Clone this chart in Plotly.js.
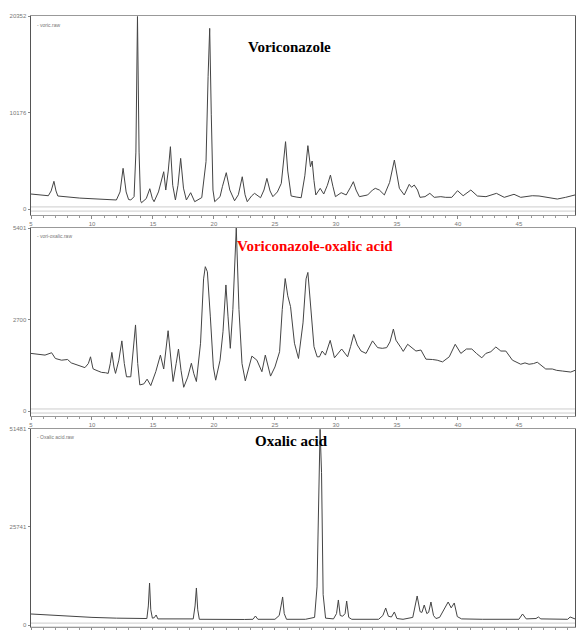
<!DOCTYPE html>
<html>
<head>
<meta charset="utf-8">
<script src="https://cdn.plot.ly/plotly-3.0.1.min.js"></script>
<style>html,body{margin:0;padding:0;background:#fff;}#chart{width:576px;height:630px;}</style>
</head>
<body>
<div id="chart"></div>
<script>
// Panel 1: Voriconazole (2theta, counts)
const vori_x = [5.0,6.0,6.42,6.65,6.88,7.05,7.2,9.0,11.0,12.0,12.3,12.55,12.8,13.0,13.18,13.45,13.6,13.73,13.86,13.98,14.06,14.45,14.74,14.95,15.09,15.45,15.88,16.05,16.25,16.43,16.62,16.84,17.05,17.27,17.5,17.74,18.09,18.42,19.0,19.35,19.52,19.65,19.78,19.92,20.06,20.5,20.69,21.01,21.3,21.69,22.0,22.32,22.55,22.73,23.1,23.33,23.82,24.1,24.34,24.6,24.83,25.2,25.52,25.7,25.87,26.05,26.33,26.8,27.15,27.45,27.70,27.91,28.05,28.2,28.35,28.71,29.0,29.3,29.55,29.75,29.96,30.43,30.84,31.2,31.43,31.65,31.92,32.6,33.0,33.23,33.56,33.97,34.4,34.79,35.0,35.2,35.6,36.01,36.2,36.42,36.69,36.89,37.3,37.7,38.06,38.6,39.0,39.5,39.97,40.43,41.06,41.6,42.3,43.16,43.8,44.6,45.15,46.1,46.65,47.33,48.15,48.83,49.6];
const vori_y = [1580,1470,1400,1900,2920,1900,1370,1150,1000,950,1800,4290,1800,1000,950,1300,6000,20300,6000,900,660,1100,2140,1100,770,1800,3930,2000,4000,6570,2500,950,2500,5340,2200,950,1720,770,1200,5000,14000,19050,10000,2000,770,1300,2350,3830,2000,870,1500,3400,1500,770,1400,1650,1190,2000,3230,1900,1300,1800,2700,5000,7100,4000,1370,1250,1190,3500,6680,4460,5060,3000,1480,2180,1580,2500,3580,2400,1300,1720,1480,2300,2880,2000,1300,1480,2000,2180,2000,1480,2800,5160,3500,2180,1480,2600,2290,2530,2000,1230,1300,1650,1230,1300,1230,1230,1930,1400,2000,1370,1300,1650,1230,1550,1230,1400,1370,1230,1050,1230,1480];

// Panel 2: Voriconazole-oxalic acid
const vox_x = [5.0,5.5,6.15,6.69,7.0,7.5,8.0,8.3,8.6,9.0,9.42,9.7,9.88,10.05,10.1,10.5,10.78,11.1,11.33,11.5,11.63,11.8,11.93,12.2,12.45,12.65,12.83,13.18,13.4,13.57,13.75,13.92,14.25,14.52,14.82,15.23,15.61,15.88,16.24,16.45,16.65,16.9,17.09,17.3,17.52,17.85,18.15,18.35,18.56,18.9,19.15,19.29,19.46,19.7,19.95,20.14,20.5,20.74,20.98,21.15,21.34,21.55,21.83,22.05,22.3,22.57,22.85,23.11,23.52,23.93,24.21,24.45,24.64,25.0,25.38,25.6,25.84,26.05,26.28,26.6,26.93,27.3,27.55,27.70,27.9,28.2,28.46,28.65,28.87,29.14,29.53,29.88,30.47,30.96,31.2,31.46,31.75,32.06,32.47,33.0,33.42,33.8,34.16,34.43,34.71,34.92,35.33,35.52,35.88,36.15,36.56,36.97,37.38,37.92,38.3,38.74,39.29,39.78,40.24,40.70,41.14,41.52,41.96,42.29,42.7,43.11,43.52,43.93,44.47,45.15,45.5,45.83,46.2,46.51,47.2,47.74,48.1,48.56,49.25,49.6];
const vox_y = [1700,1680,1650,1720,1550,1500,1520,1420,1380,1330,1280,1400,1600,1300,1240,1180,1140,1130,1110,1400,1730,1300,1110,1500,2070,1400,1010,1010,1800,2540,1400,770,800,940,750,1160,1650,1240,2370,1500,870,1400,1830,1200,700,1000,1410,1100,870,2000,3900,4260,4110,2800,1300,910,1500,2340,3720,2800,1850,3000,5400,3000,1400,890,1300,1620,1500,1160,1650,1300,1030,1300,1750,3000,3910,3400,3080,2000,1550,2600,3900,4090,3300,1900,1600,1600,1770,1650,2085,1570,1830,1600,1900,2260,1950,1770,1700,2070,1870,1850,1870,2040,2420,2090,1870,1760,1970,1900,1770,1800,1530,1520,1500,1450,1600,1970,1700,1830,1830,1700,1570,1700,1750,1890,1770,1770,1500,1380,1420,1380,1400,1440,1240,1240,1200,1180,1150,1200];

// Panel 3: Oxalic acid
const ox_x = [5.0,6.0,8.0,10.0,12.0,14.0,14.5,14.62,14.72,14.82,14.95,15.1,15.26,15.4,17.0,18.3,18.45,18.56,18.67,18.8,22.5,23.2,23.4,23.6,25.0,25.35,25.5,25.63,25.76,25.95,27.5,28.25,28.45,28.6,28.7,28.82,28.95,29.15,29.8,30.05,30.2,30.35,30.55,30.75,30.88,31.05,31.3,33.5,33.85,34.08,34.3,34.55,34.79,35.0,35.5,36.3,36.66,36.9,37.05,37.24,37.45,37.6,37.79,38.0,38.2,38.5,38.93,39.2,39.45,39.7,39.95,40.3,42.0,45.0,45.3,45.6,46.4,46.6,46.8,49.0,49.2,49.6];
const ox_y = [2890,2700,2300,2000,1800,1600,1700,5000,11030,4000,1800,1900,2630,1600,1500,1600,5000,9720,4000,1500,1450,1500,2360,1500,1500,2500,5000,7360,3000,1500,1500,2000,10000,40000,51400,40000,8000,1800,1600,3000,6570,2500,2300,3000,6300,2000,1500,1500,2500,4470,2300,2100,3420,1700,1500,2000,7620,3500,3300,5250,3000,3300,6040,2500,1700,2000,4470,6040,4500,5780,2200,1600,1500,1500,2890,1600,1700,2100,1600,1500,2100,1600];

// Axis tick labels
const y1_ticks = [0, 10176, 20352];
const y2_ticks = [0, 2700, 5401];
const y3_ticks = [0, 25741, 51481];
const x_ticks = [5, 10, 15, 20, 25, 30, 35, 40, 45];

const lineStyle = {color: '#444', width: 1};
const traces = [
  {x: vori_x, y: vori_y, xaxis: 'x', yaxis: 'y', type: 'scatter', mode: 'lines', line: lineStyle, hoverinfo: 'skip'},
  {x: vox_x, y: vox_y, xaxis: 'x2', yaxis: 'y2', type: 'scatter', mode: 'lines', line: lineStyle, hoverinfo: 'skip'},
  {x: ox_x, y: ox_y, xaxis: 'x3', yaxis: 'y3', type: 'scatter', mode: 'lines', line: lineStyle, hoverinfo: 'skip'}
];

const tickFont = {family: 'Liberation Sans, Arial, sans-serif', size: 6, color: '#777'};
function xAxis(anchor, showLabels) {
  return {
    anchor: anchor, range: [5, 49.6], domain: [0, 1],
    tickvals: x_ticks, ticktext: x_ticks.map(String), showticklabels: showLabels,
    ticks: 'outside', ticklen: 3, tickcolor: '#888', tickwidth: 1,
    minor: {dtick: 1, tick0: 5, ticks: 'outside', ticklen: 2, tickcolor: '#999'},
    showline: true, linecolor: '#999', linewidth: 1, mirror: true,
    showgrid: false, zeroline: false, tickfont: tickFont
  };
}
function yAxis(anchor, dom, rng, tv) {
  return {
    anchor: anchor, domain: dom, range: rng,
    tickvals: tv, ticktext: tv.map(String),
    ticks: 'outside', ticklen: 2, tickcolor: '#888',
    showline: true, linecolor: '#555', linewidth: 1.5, mirror: true,
    showgrid: false, zeroline: false, tickfont: tickFont
  };
}

function baseLines(yref, a, b) {
  return [
    {type: 'line', xref: 'paper', yref: yref, x0: 0, x1: 1, y0: a, y1: a, line: {color: '#ccc', width: 1}},
    {type: 'line', xref: 'paper', yref: yref, x0: 0, x1: 1, y0: b, y1: b, line: {color: '#ccc', width: 1}}
  ];
}

const titleFont = {family: 'Liberation Serif, Times New Roman, serif', size: 15, color: '#000'};
const legFont = {family: 'Liberation Sans, Arial, sans-serif', size: 5, color: '#777'};

const layout = {
  width: 576, height: 630,
  margin: {l: 31, r: 1, t: 16, b: 3, autoexpand: false},
  paper_bgcolor: '#fff', plot_bgcolor: '#fff',
  showlegend: false,
  xaxis: xAxis('y', true),
  xaxis2: xAxis('y2', true),
  xaxis3: xAxis('y3', false),
  yaxis: yAxis('x', [0.6743, 1], [-633, 20352], y1_ticks),
  yaxis2: yAxis('x2', [0.3453, 0.6530], [-148, 5401], y2_ticks),
  yaxis3: yAxis('x3', [0, 0.3241], [-525, 51481], y3_ticks),
  shapes: [].concat(baseLines('y', 220, -220), baseLines('y2', 60, -60), baseLines('y3', 500, -500)),
  annotations: [
    {text: '<b>Voriconazole</b>', xref: 'paper', yref: 'paper', x: 0.476, y: 0.949, xanchor: 'center', yanchor: 'middle', showarrow: false, font: titleFont},
    {text: '<b>Voriconazole-oxalic acid</b>', xref: 'paper', yref: 'paper', x: 0.522, y: 0.6236, xanchor: 'center', yanchor: 'middle', showarrow: false, font: Object.assign({}, titleFont, {color: '#ff0000'})},
    {text: '<b>Oxalic acid</b>', xref: 'paper', yref: 'paper', x: 0.478, y: 0.3044, xanchor: 'center', yanchor: 'middle', showarrow: false, font: titleFont},
    {text: '- voric.raw', xref: 'paper', yref: 'paper', x: 0.008, y: 0.993, xanchor: 'left', yanchor: 'top', showarrow: false, font: legFont},
    {text: '- vori-oxalic.raw', xref: 'paper', yref: 'paper', x: 0.008, y: 0.648, xanchor: 'left', yanchor: 'top', showarrow: false, font: legFont},
    {text: '- Oxalic acid.raw', xref: 'paper', yref: 'paper', x: 0.008, y: 0.319, xanchor: 'left', yanchor: 'top', showarrow: false, font: legFont}
  ]
};

Plotly.newPlot('chart', traces, layout, {staticPlot: true, displayModeBar: false});
</script>
</body>
</html>
